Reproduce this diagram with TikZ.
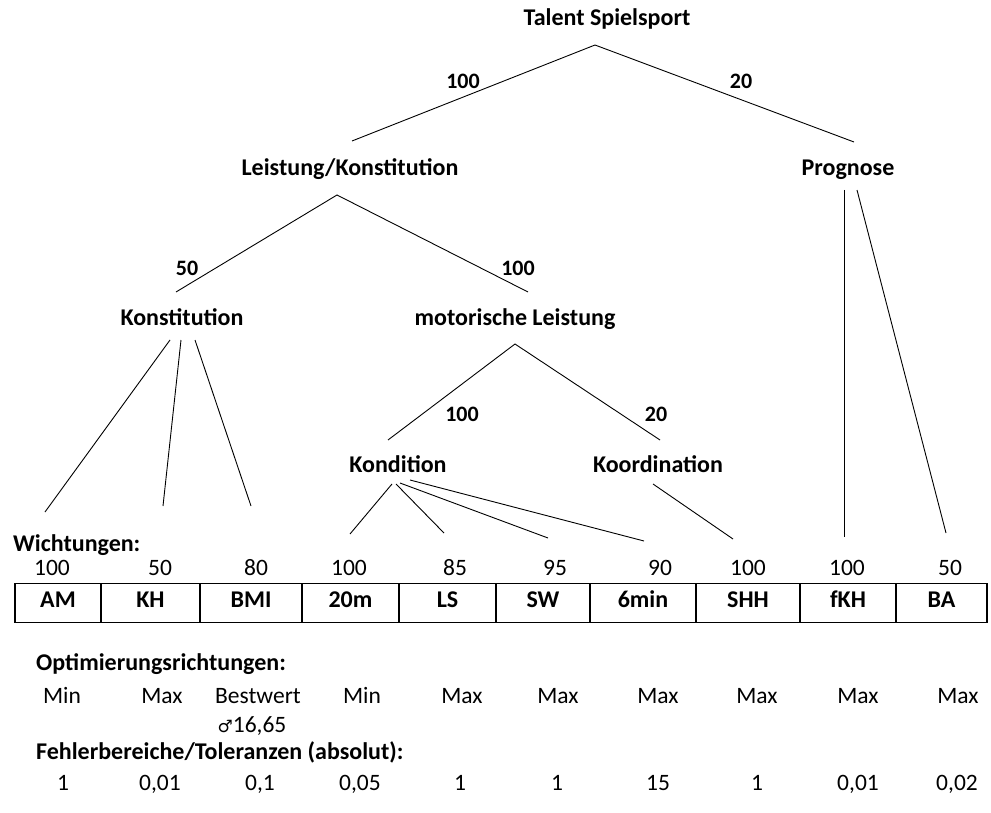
\documentclass[tikz,border=0pt]{standalone}
\usepackage{fontspec}
\setmainfont{Carlito}
\newfontfamily\symfont{DejaVu Sans}
\begin{document}
\begin{tikzpicture}[x=1pt,y=-1pt,
  every node/.style={inner sep=0pt, text height=1.0em, text depth=0.08em},
  lbl/.style={font=\fontsize{24}{26}\selectfont\bfseries},
  wt/.style={font=\fontsize{22}{24}\selectfont\bfseries},
  val/.style={font=\fontsize{23.5}{26}\selectfont},
  cell/.style={draw, line width=1.1pt, minimum height=39pt, font=\fontsize{24}{26}\selectfont\bfseries},
  hdr/.style={font=\fontsize{24}{26}\selectfont\bfseries, anchor=west},
  edge/.style={line width=0.9pt}]
\path[use as bounding box] (0,0) rectangle (991,813);
\fill[white] (0,0) rectangle (991,813);

% tree nodes
\node[lbl] (ts) at (607,21) {Talent Spielsport};
\node[lbl] (lk) at (350,171) {Leistung/Konstitution};
\node[lbl] (pr) at (848,171) {Prognose};
\node[lbl] (ko) at (182,321) {Konstitution};
\node[lbl] (ml) at (515,321) {motorische Leistung};
\node[lbl] (kd) at (398,468) {Kondition};
\node[lbl] (kr) at (658,468) {Koordination};

% edge weights
\node[wt] (w1) at (463,84) {100};
\node[wt] (w2) at (741,84) {20};
\node[wt] (w3) at (187,271) {50};
\node[wt] (w4) at (518,271) {100};
\node[wt] (w5) at (462,417) {100};
\node[wt] (w6) at (656,417) {20};

% connector end points
\coordinate (tsA) at (595,45);
\coordinate (lkT) at (352,141);
\coordinate (prT) at (854,142);
\coordinate (lkA) at (337,195);
\coordinate (koT) at (176,292);
\coordinate (mlT) at (528,292);
\coordinate (koA1) at (170,340);
\coordinate (koA2) at (181,340);
\coordinate (koA3) at (195,340);
\coordinate (mlA) at (515,344);
\coordinate (kdT) at (388,440);
\coordinate (krT) at (660,440);
\coordinate (kdA1) at (392,484);
\coordinate (kdA2) at (396,484);
\coordinate (kdA3) at (400,483);
\coordinate (kdA4) at (410,480);
\coordinate (krA) at (653,484);
\coordinate (prA1) at (844,190);
\coordinate (prA2) at (857,190);
\coordinate (eAM) at (45,512);
\coordinate (eKH) at (163,506);
\coordinate (eBMI) at (251,506);
\coordinate (e20) at (350,534);
\coordinate (eLS) at (444,533);
\coordinate (eSW) at (548,538);
\coordinate (e6) at (644,541);
\coordinate (eSHH) at (733,539);
\coordinate (efKH) at (844,537);
\coordinate (eBA) at (946,533);

\draw[edge] (lkT) -- (tsA) -- (prT);
\draw[edge] (koT) -- (lkA) -- (mlT);
\draw[edge] (kdT) -- (mlA) -- (krT);
\draw[edge] (koA1) -- (eAM);
\draw[edge] (koA2) -- (eKH);
\draw[edge] (koA3) -- (eBMI);
\draw[edge] (kdA1) -- (e20);
\draw[edge] (kdA2) -- (eLS);
\draw[edge] (kdA3) -- (eSW);
\draw[edge] (kdA4) -- (e6);
\draw[edge] (krA) -- (eSHH);
\draw[edge] (prA1) -- (efKH);
\draw[edge] (prA2) -- (eBA);

% Wichtungen
\node[hdr] (wl) at (13,547) {Wichtungen:};
\foreach \x/\t [count=\i] in {52/100,160/50,256/80,349/100,455/85,555/95,660/90,748/100,847/100,950/50}
  \node[val] (g\i) at (\x,571) {\t};

% boxes
\foreach \a/\b/\t [count=\i] in {15/101/AM,101/200/KH,200/302/BMI,302/399/20m,399/496/LS,496/590/SW,590/696/6min,696/800/SHH,800/896/fKH,896/987/BA}
  \node[cell, minimum width={(\b-\a)*1pt}] (c\i) at ({(\a+\b)/2},603) {\t};

% Optimierungsrichtungen
\node[hdr] (ol) at (36,666) {Optimierungsrichtungen:};
\foreach \x/\t [count=\i] in {62/Min,162/Max,258/Bestwert,362/Min,462/Max,558/Max,658/Max,757/Max,858/Max,958/Max}
  \node[val] (o\i) at (\x,699) {\t};
\node[val] (bw) at (252,728) {{\symfont\fontsize{17}{19}\selectfont ♂}16,65};

% Fehlerbereiche
\node[hdr] (fl) at (36,755) {Fehlerbereiche/Toleranzen (absolut):};
\foreach \x/\t [count=\i] in {63/1,160/{0,01},260/{0,1},360/{0,05},460/1,557/1,658/15,757/1,858/{0,01},957/{0,02}}
  \node[val] (f\i) at (\x,786) {\t};
\end{tikzpicture}
\end{document}
